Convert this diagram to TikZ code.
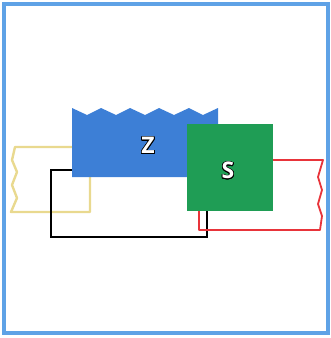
\documentclass[tikz,border=0pt]{standalone}
\usepackage{fontspec}
\setsansfont{Open Sans}
\usepackage{xcolor}
\usepackage[copies]{contour}
\usepackage{tikz}
\definecolor{frameBlue}{HTML}{5FA2E6}
\definecolor{zoneBlue}{HTML}{3D7FD6}
\definecolor{zoneGreen}{HTML}{1F9D55}
\definecolor{wallYellow}{HTML}{E9D98F}
\definecolor{wallRed}{HTML}{E8343A}
\contourlength{0.8pt}
\tikzset{
  zlabel/.style={text=white,font=\sffamily\bfseries\fontsize{23}{23}\selectfont,inner sep=0pt},
}

\begin{document}
\begin{tikzpicture}[x=1pt, y=-1pt]
  \useasboundingbox (0,0) rectangle (331,338);
  \draw[frameBlue, line width=3.4pt] (4,4) rectangle (328,333);

  % outlines behind the blocks
  \draw[wallYellow, line width=2.4pt, line join=round]
    (72,147) -- (15,147) -- (12,160) -- (17,172) -- (12,185) -- (17,198) -- (11,212) -- (90,212) -- (90,177);
  \draw[black, line width=1.6pt]
    (72,170) -- (51,170) -- (51,237) -- (207,237) -- (207,211);
  \draw[wallRed, line width=1.8pt, line join=round]
    (273,160) -- (323,160) -- (318,177) -- (322,190) -- (318,204) -- (322,216) -- (320,230) -- (199,230) -- (199,211);

  % blocks
  \fill[zoneBlue] (72,108) -- (87,115) -- (101,108) -- (116,115) -- (130,108) -- (145,115) -- (159,108)
    -- (174,115) -- (189,108) -- (203,115) -- (218,108) -- (218,177) -- (72,177) -- cycle;
  \fill[zoneGreen] (187,124) rectangle (273,211);

  \node[zlabel] (z) at (148,146) {\contour{black}{Z}};
  \node[zlabel] (s) at (228,171) {\contour{black}{S}};
\end{tikzpicture}
\end{document}
